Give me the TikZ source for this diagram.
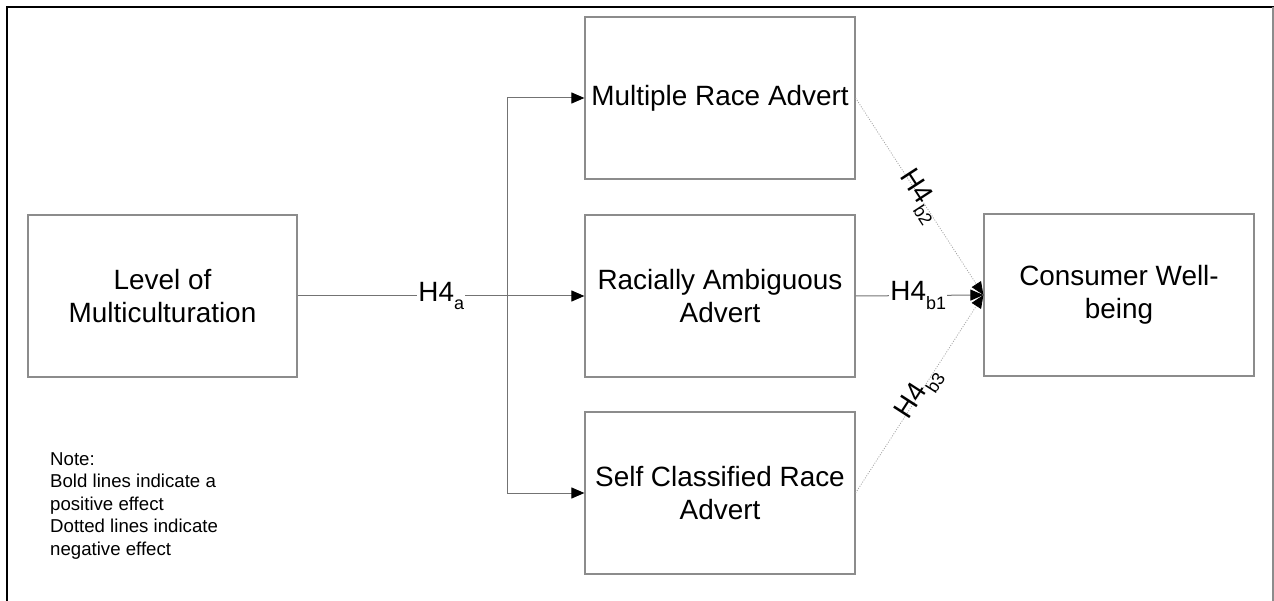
\documentclass[tikz,border=0pt]{standalone}
\usepackage{fontspec}
\setmainfont{Liberation Sans}
\usetikzlibrary{arrows.meta}
\newcommand{\mysub}[1]{\raisebox{-0.3em}{\fontsize{18}{18}\selectfont #1}}
\begin{document}
\begin{tikzpicture}[x=1bp,y=-1bp,
  box/.style={draw=black!45, line width=1.2bp, rectangle, minimum width=270bp, minimum height=162bp, align=center, inner sep=0pt, font=\fontsize{28}{33}\selectfont},
  conn/.style={draw=black!55, line width=1bp},
  tip/.style={-{Triangle[length=13bp,width=11bp,color=black]}},
  dotline/.style={draw=black!35, line width=0.8bp, dash pattern=on 1bp off 1.5bp},
  lbl/.style={fill=white, inner sep=1bp, font=\fontsize{28}{33}\selectfont}
]
\useasboundingbox (0,0) rectangle (1274,601);
% frame
\draw[line width=2.5bp] (7,601) -- (7,7) -- (1274,7);
\draw[black!45, line width=1.5bp] (1273,7) -- (1273,601);

\node[box, minimum width=269bp] (lev) at (162.5,296) {Level of\\Multiculturation};
\node[box] (mra) at (720,98) {Multiple Race Advert};
\node[box] (raa) at (720,296) {Racially Ambiguous\\Advert};
\node[box] (scr) at (720,493) {Self Classified Race\\Advert};
\node[box] (cwb) at (1119,295) {Consumer Well-\\being};

\coordinate (j) at (507,296);
\draw[conn] (lev.east) -- node[lbl, pos=0.686] (h4a) {H4\mysub{a}} (j);
\draw[conn, tip] (j) -- (raa.west);
\draw[conn, tip] (j) |- (mra.west);
\draw[conn, tip] (j) |- (scr.west);

\draw[conn, tip] (raa.east) -- node[lbl, pos=0.49] (h4b1) {H4\mysub{b1}} (cwb.west);
\draw[dotline, tip] (mra.east) -- node[lbl, fill=none, sloped, pos=0.5] (h4b2) {H4\mysub{b2}} (cwb.west);
\draw[dotline, tip] (scr.east) -- node[lbl, fill=none, sloped, pos=0.5] (h4b3) {H4\mysub{b3}} (cwb.west);

\node[anchor=north west, align=left, inner sep=0pt, font=\fontsize{18.7}{22.7}\selectfont] (note) at (50,452)
  {Note:\\Bold lines indicate a\\positive effect\\Dotted lines indicate\\negative effect};
\end{tikzpicture}
\end{document}
